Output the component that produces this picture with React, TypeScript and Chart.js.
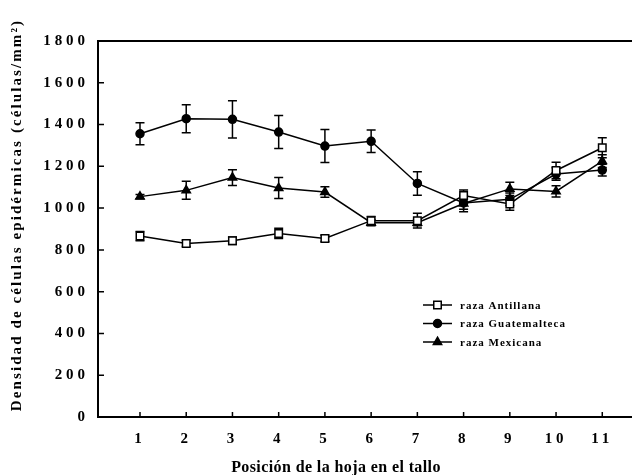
import { useEffect, useRef } from "react";
import { Chart, registerables } from "chart.js";
import { drawPoint } from "chart.js/helpers";

Chart.register(...registerables);

// ---- Data ----
const positions = [1, 2, 3, 4, 5, 6, 7, 8, 9, 10, 11];
const xTickValues = [1, 2, 3, 4, 5, 6, 7, 8, 9, 10, 11];
const yMin = 0;
const yMax = 1800;
const yStep = 200;

const seriesLabels = ["raza Antillana", "raza Guatemalteca", "raza Mexicana"];

const antillana = [866, 831, 844, 879, 855, 940, 940, 1060, 1020, 1180, 1289];
const antillanaErr = [22, 15, 18, 25, 15, 20, 35, 27, 30, 40, 48];

const guatemalteca = [1356, 1428, 1425, 1364, 1297, 1320, 1118, 1025, 1042, 1163, 1182];
const guatemaltecaErr = [53, 67, 89, 79, 79, 54, 56, 30, 30, 30, 28];

const mexicana = [1055, 1085, 1146, 1096, 1077, 930, 930, 1022, 1092, 1080, 1225];
const mexicanaErr = [10, 43, 38, 50, 25, 15, 15, 40, 32, 27, 30];

const xTitle = "Posición de la hoja en el tallo";
const yTitle = "Densidad de células epidérmicas (células/mm²)";

const FONT = '"Liberation Serif", "Times New Roman", serif';

const toPoints = (vals: number[]) => positions.map((x, i) => ({ x, y: vals[i] }));

const decorPlugin = {
  id: "decor",
  beforeDraw(chart: any) {
    chart.ctx.letterSpacing = "3.9px";
  },
  beforeDatasetsDraw(chart: any) {
    const ctx = chart.ctx;
    const ys = chart.scales.y;
    ctx.save();
    ctx.letterSpacing = "0px";
    ctx.strokeStyle = "#000";
    ctx.lineWidth = 1.5;
    chart.data.datasets.forEach((ds: any, i: number) => {
      const meta = chart.getDatasetMeta(i);
      meta.data.forEach((pt: any, j: number) => {
        const v = ds.data[j].y;
        const e = ds.errors[j];
        const yt = ys.getPixelForValue(v + e);
        const yb = ys.getPixelForValue(v - e);
        ctx.beginPath();
        ctx.moveTo(pt.x, yt);
        ctx.lineTo(pt.x, yb);
        ctx.moveTo(pt.x - 4.5, yt);
        ctx.lineTo(pt.x + 4.5, yt);
        ctx.moveTo(pt.x - 4.5, yb);
        ctx.lineTo(pt.x + 4.5, yb);
        ctx.stroke();
      });
    });
    ctx.restore();
  },
  afterDraw(chart: any) {
    const ctx = chart.ctx;
    const { left, right, top, bottom } = chart.chartArea;
    const xs = chart.scales.x;
    const ys = chart.scales.y;
    ctx.save();
    ctx.letterSpacing = "0px";
    ctx.strokeStyle = "#000";
    ctx.fillStyle = "#000";
    // top frame line
    ctx.lineWidth = 2;
    ctx.beginPath();
    ctx.moveTo(left - 1, top);
    ctx.lineTo(right, top);
    ctx.stroke();
    // inside tick marks
    ctx.lineWidth = 1.5;
    ctx.beginPath();
    xs.ticks.forEach((t: any) => {
      const px = xs.getPixelForValue(t.value);
      ctx.moveTo(px, bottom);
      ctx.lineTo(px, bottom - 5);
    });
    ys.ticks.forEach((t: any) => {
      const py = ys.getPixelForValue(t.value);
      ctx.moveTo(left, py);
      ctx.lineTo(left + 6, py);
    });
    ctx.stroke();

    // axis titles
    ctx.font = `bold 16px ${FONT}`;
    ctx.letterSpacing = "0.4px";
    ctx.textAlign = "center";
    ctx.textBaseline = "alphabetic";
    ctx.fillText(xTitle, 336, 472);

    ctx.save();
    ctx.translate(21, 215);
    ctx.rotate(-Math.PI / 2);
    ctx.font = `bold 15px ${FONT}`;
    ctx.letterSpacing = "2.1px";
    ctx.fillText(yTitle, 0, 0);
    ctx.restore();

    // legend
    const lx = left + 325;
    const ly = top + 264;
    const rowH = 18.5;
    ctx.font = `bold 11px ${FONT}`;
    ctx.letterSpacing = "1px";
    ctx.textAlign = "left";
    ctx.textBaseline = "middle";
    chart.data.datasets.forEach((ds: any, i: number) => {
      const y = ly + i * rowH;
      ctx.lineWidth = 1.5;
      ctx.strokeStyle = "#000";
      ctx.beginPath();
      ctx.moveTo(lx, y);
      ctx.lineTo(lx + 29, y);
      ctx.stroke();
      ctx.fillStyle = ds.pointBackgroundColor;
      ctx.strokeStyle = "#000";
      drawPoint(ctx, { pointStyle: ds.pointStyle, radius: ds.pointRadius, borderWidth: 1.5, rotation: 0 }, lx + 14.5, y);
      ctx.fillStyle = "#000";
      ctx.fillText(ds.label, lx + 37, y + 1);
    });
    ctx.restore();
    ctx.letterSpacing = "0px";
  },
};

export default function App() {
  const canvasRef = useRef<HTMLCanvasElement | null>(null);

  useEffect(() => {
    if (!canvasRef.current) return;
    const common = {
      borderColor: "#000",
      borderWidth: 1.5,
      pointBorderColor: "#000",
      pointBorderWidth: 1.5,
      showLine: true,
      tension: 0,
    };
    const chart = new Chart(canvasRef.current, {
      type: "scatter",
      data: {
        datasets: [
          {
            ...common,
            label: seriesLabels[0],
            data: toPoints(antillana),
            errors: antillanaErr,
            pointStyle: "rect",
            pointRadius: 5.3,
            pointBackgroundColor: "#fff",
          } as any,
          {
            ...common,
            label: seriesLabels[1],
            data: toPoints(guatemalteca),
            errors: guatemaltecaErr,
            pointStyle: "circle",
            pointRadius: 4,
            pointBackgroundColor: "#000",
          } as any,
          {
            ...common,
            label: seriesLabels[2],
            data: toPoints(mexicana),
            errors: mexicanaErr,
            pointStyle: "triangle",
            pointRadius: 4.8,
            pointBackgroundColor: "#000",
          } as any,
        ],
      },
      options: {
        animation: false,
        responsive: false,
        layout: { autoPadding: false, padding: { top: 41, right: 0, left: 0, bottom: 0 } },
        plugins: {
          legend: { display: false },
          tooltip: { enabled: false },
        },
        scales: {
          x: {
            type: "linear",
            min: 0.0915,
            max: 11.643,
            afterBuildTicks: (scale: any) => {
              scale.ticks = xTickValues.map((v) => ({ value: v }));
            },
            afterFit: (scale: any) => {
              scale.height = 58;
              scale.paddingLeft = 0;
              scale.paddingRight = 0;
            },
            grid: { display: false, drawTicks: false },
            border: { display: true, color: "#000", width: 2 },
            ticks: {
              color: "#000",
              padding: 13,
              maxRotation: 0,
              autoSkip: false,
              font: { family: FONT, size: 15, weight: "bold" },
              callback: (v: any) => String(v),
            },
          },
          y: {
            type: "linear",
            min: yMin,
            max: yMax,
            afterFit: (scale: any) => {
              scale.width = 98;
              scale.paddingTop = 0;
              scale.paddingBottom = 0;
            },
            grid: { display: false, drawTicks: false },
            border: { display: true, color: "#000", width: 2 },
            ticks: {
              stepSize: yStep,
              color: "#000",
              padding: 9.1,
              font: { family: FONT, size: 15, weight: "bold" },
              callback: (v: any) => String(v),
            },
          },
        },
      } as any,
      plugins: [decorPlugin],
    });
    return () => chart.destroy();
  }, []);

  return (
    <canvas
      ref={canvasRef}
      width={632}
      height={475}
      style={{ position: "fixed", left: 0, top: 0, width: 632, height: 475, display: "block", background: "#fff" }}
    />
  );
}
